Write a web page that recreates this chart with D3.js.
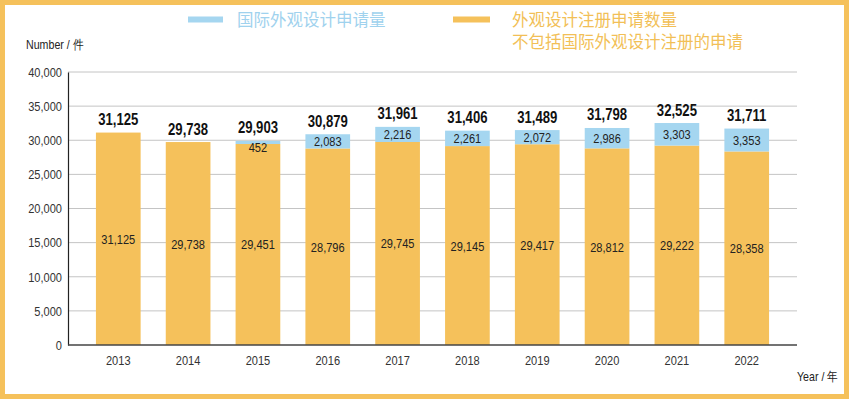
<!DOCTYPE html>
<html><head><meta charset="utf-8">
<script src="https://cdn.jsdelivr.net/npm/d3@7"></script>
<style>
html,body{margin:0;padding:0;background:#fff;}
svg{display:block;}
</style></head>
<body>
<svg id="chart" width="849" height="399"></svg>
<script>
const years = ["2013","2014","2015","2016","2017","2018","2019","2020","2021","2022"];
const domestic = [31125, 29738, 29451, 28796, 29745, 29145, 29417, 28812, 29222, 28358];
const international = [0, 0, 452, 2083, 2216, 2261, 2072, 2986, 3303, 3353];
const totals = [31125, 29738, 29903, 30879, 31961, 31406, 31489, 31798, 32525, 31711];
const yTicks = [0, 5000, 10000, 15000, 20000, 25000, 30000, 35000, 40000];
const legendIntl = "国际外观设计申请量";
const legendDomestic = ["外观设计注册申请数量", "不包括国际外观设计注册的申请"];

const W = 849, H = 399;
const ORANGE = "#f5c15b", BLUE = "#a5d6f0";
const SANS = "'Liberation Sans',Arial,sans-serif";
const CJK = "'Noto Sans CJK SC','Noto Sans',sans-serif";
const SX = 0.82; // condensed look
const svg = d3.select("#chart");

function narrow(sel, fx, fy) {
  sel.attr("x", 0).attr("y", 0)
     .attr("transform", (d, i) => `translate(${fx(d, i)},${fy(d, i)}) scale(${SX},1)`)
     .attr("font-family", SANS);
  return sel;
}

// frame
svg.append("rect").attr("x", 2.5).attr("y", 2.5).attr("width", W - 5).attr("height", H - 5)
  .attr("fill", "#fff").attr("stroke", ORANGE).attr("stroke-width", 5);

const x = d3.scaleBand().domain(years).range([68, 797]).paddingInner(0.36).paddingOuter(0.4);
const y = d3.scaleLinear().domain([0, 40000]).range([345, 72]);

// grid
svg.append("g").selectAll("line").data(yTicks.filter(d => d > 0)).join("line")
  .attr("x1", 68).attr("x2", 797)
  .attr("y1", d => y(d)).attr("y2", d => y(d))
  .attr("stroke", "#c4c4c4").attr("stroke-width", 1);

// y axis
const yAxis = svg.append("g").attr("transform", "translate(68,0)")
  .call(d3.axisLeft(y).tickValues(yTicks).tickSize(0).tickPadding(6).tickFormat(d3.format(",")));
yAxis.select(".domain").attr("stroke", "#222").attr("stroke-width", 1.2);
yAxis.selectAll("text")
  .attr("transform", `translate(-6,0) scale(${SX},1)`).attr("x", 0)
  .attr("font-family", SANS).attr("font-size", 13.5).attr("fill", "#333");

// bars
const data = years.map((yr, i) => ({yr, dom: domestic[i], intl: international[i], tot: totals[i]}));
svg.append("g").selectAll("rect").data(data).join("rect")
  .attr("x", d => x(d.yr)).attr("width", x.bandwidth())
  .attr("y", d => y(d.dom)).attr("height", d => y(0) - y(d.dom))
  .attr("fill", ORANGE);
svg.append("g").selectAll("rect").data(data.filter(d => d.intl > 0)).join("rect")
  .attr("x", d => x(d.yr)).attr("width", x.bandwidth())
  .attr("y", d => y(d.dom + d.intl)).attr("height", d => y(d.dom) - y(d.dom + d.intl))
  .attr("fill", BLUE);

// x axis baseline
svg.append("line").attr("x1", 68).attr("x2", 797).attr("y1", y(0)).attr("y2", y(0))
  .attr("stroke", "#444").attr("stroke-width", 1.6);

const xAxis = svg.append("g").attr("transform", `translate(0,${y(0)})`)
  .call(d3.axisBottom(x).tickSize(0).tickPadding(10));
xAxis.select(".domain").remove();
xAxis.selectAll("text")
  .attr("transform", `translate(0,10) scale(${SX},1)`).attr("y", 0).attr("dy", "0.71em")
  .attr("font-family", SANS).attr("font-size", 13.5).attr("fill", "#333");

// labels
const fmt = d3.format(",");
const cx = d => x(d.yr) + x.bandwidth() / 2;
narrow(svg.append("g").selectAll("text").data(data).join("text"),
       cx, d => (y(d.dom) + y(0)) / 2 + 5)
  .attr("text-anchor", "middle").attr("font-size", 13.5).attr("fill", "#222")
  .text(d => fmt(d.dom));
narrow(svg.append("g").selectAll("text").data(data.filter(d => d.intl > 0)).join("text"),
       cx, d => {
         const h = y(d.dom) - y(d.dom + d.intl);
         return h < 12 ? y(d.dom) + 8 : (y(d.dom) + y(d.dom + d.intl)) / 2 + 5;
       })
  .attr("text-anchor", "middle").attr("font-size", 13.5).attr("fill", "#222")
  .text(d => fmt(d.intl));
narrow(svg.append("g").selectAll("text").data(data).join("text"),
       cx, d => y(d.tot) - 7.5)
  .attr("text-anchor", "middle").attr("font-size", 16).attr("font-weight", "bold").attr("fill", "#111")
  .text(d => fmt(d.tot));

// axis titles
narrow(svg.append("text").datum(0), () => 26, () => 49)
  .attr("font-size", 13).attr("fill", "#222").text("Number / 件");
narrow(svg.append("text").datum(0), () => 797, () => 381)
  .attr("font-size", 13).attr("fill", "#222").text("Year / 年");

// legend
svg.append("rect").attr("x", 188).attr("y", 16.5).attr("width", 35).attr("height", 6).attr("fill", BLUE);
svg.append("text").attr("x", 237).attr("y", 26).attr("font-family", CJK).attr("font-size", 16.5).attr("fill", "#9fd2ee")
  .text(legendIntl);
svg.append("rect").attr("x", 453).attr("y", 16.5).attr("width", 37).attr("height", 6).attr("fill", ORANGE);
svg.append("text").attr("x", 512).attr("y", 26).attr("font-family", CJK).attr("font-size", 16.5).attr("fill", "#f2bf57")
  .text(legendDomestic[0]);
svg.append("text").attr("x", 512).attr("y", 48).attr("font-family", CJK).attr("font-size", 16.5).attr("fill", "#f2bf57")
  .text(legendDomestic[1]);
</script>
</body></html>
